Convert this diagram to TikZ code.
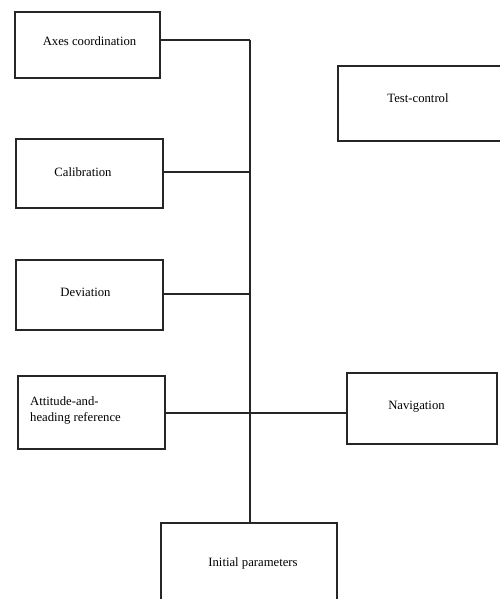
\documentclass[tikz,border=0pt]{standalone}
\usepackage{fontspec}
\setmainfont{Liberation Serif}
\begin{document}
\begin{tikzpicture}[x=1pt,y=-1pt,
  box/.style={draw=black!85,line width=1.1pt,rectangle,inner sep=0pt},
  lbl/.style={font=\fontsize{12.7}{16}\selectfont,inner sep=0pt,text=black},
  conn/.style={draw=black!85,line width=1.1pt}]
\useasboundingbox (0,0) rectangle (500,599);
\clip (0,0) rectangle (500,599);
% boxes
\node[box,minimum width=145pt,minimum height=66pt] (ax) at (87.5,45) {};
\node[box,minimum width=147pt,minimum height=69pt] (cal) at (89.5,173.5) {};
\node[box,minimum width=147pt,minimum height=70pt] (dev) at (89.5,295) {};
\node[box,minimum width=147pt,minimum height=73pt] (att) at (91.5,412.5) {};
\node[box,minimum width=150pt,minimum height=71pt] (nav) at (422,408.5) {};
\node[box,minimum width=166pt,minimum height=75pt] (tc) at (421,103.5) {};
\node[box,minimum width=176pt,minimum height=84pt] (ini) at (249,565) {};
% texts
\node[lbl] (tax) at (89.5,41) {Axes coordination};
\node[lbl] (tcal) at (83,172) {Calibration};
\node[lbl] (tdev) at (85.5,292) {Deviation};
\node[lbl,align=left,anchor=west] (tatt) at (30,410) {Attitude-and-\\heading reference};
\node[lbl] (tnav) at (416.5,407) {Navigation};
\node[lbl] (ttc) at (418,98) {Test-control};
\node[lbl] (tini) at (253,563) {Initial parameters};
% junctions
\coordinate (j1) at (250,40);
\coordinate (j2) at (250,172);
\coordinate (j3) at (250,294);
\coordinate (j4) at (250,413);
% connectors
\draw[conn] (ax.east |- j1) -- (j1);
\draw[conn] (cal.east |- j2) -- (j2);
\draw[conn] (dev.east |- j3) -- (j3);
\draw[conn] (att.east |- j4) -- (nav.west |- j4);
\draw[conn] (j1) -- (j1 |- ini.north);
\end{tikzpicture}
\end{document}
